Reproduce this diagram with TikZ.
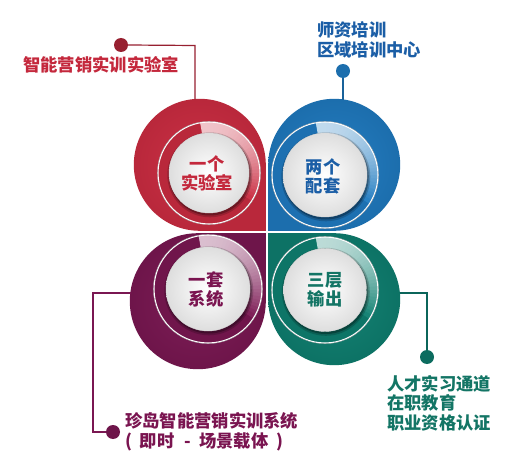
\documentclass[tikz,border=0pt]{standalone}
\usepackage{fontspec}
\newfontfamily\cjk{Noto Sans CJK SC}
\usetikzlibrary{calc}
\definecolor{cred}{HTML}{C92B40}
\definecolor{cblue}{HTML}{1F7AC0}
\definecolor{cpurp}{HTML}{7A1752}
\definecolor{cgreen}{HTML}{0E7F70}
\definecolor{tred}{HTML}{C4283C}
\definecolor{tblue}{HTML}{1B5EA6}
\definecolor{tpurp}{HTML}{7A1450}
\definecolor{tgreen}{HTML}{137565}
% #1 colour, #2 centre, #3 ring radius, #4 disc radius
\newcommand\mydisc[4]{%
  \fill[#1!92!black] (#2) circle[radius=#3];
  \foreach \a in {100,96,...,-28}{%
    \pgfmathsetmacro\myt{(100-\a)/130}%
    \pgfmathsetmacro\myp{28+70*\myt*\myt}%
    \fill[#1!\myp!white] ($(#2)+(\a:#3)$) arc[start angle=\a,end angle=\a-5,radius=#3]
      -- ($(#2)+(\a-5:#4)$) arc[start angle=\a-5,end angle=\a,radius=#4] -- cycle;
  }
  \draw[white, line width=1.1pt] (#2) circle[radius=#3];
  \draw[black!35, line width=0.3pt] (#2) circle[radius=#3+0.7];
  \fill[black, opacity=0.18] ($(#2)+(0.8,-1.8)$) circle[radius=#4+2.5];
  \fill[black, opacity=0.28] ($(#2)+(0.8,-1.5)$) circle[radius=#4+1];
  \shadedraw[inner color=white, outer color=black!13, draw=black!15, line width=0.4pt] (#2) circle[radius=#4];
}
\tikzset{
  lbl/.style={font=\cjk\bfseries\fontsize{17.3}{20}\selectfont, inner sep=0pt, align=left, anchor=west},
  intxt/.style={font=\cjk\bfseries\fontsize{17.3}{19}\selectfont, inner sep=0pt, align=center},
  dotn/.style={circle, inner sep=0pt, minimum size=14pt},
  conn/.style={line width=1.2pt},
}
\begin{document}
\begin{tikzpicture}[x=1pt,y=1pt]
\useasboundingbox (0,0) rectangle (520,467);
\fill[white] (0,0) rectangle (520,467);

% petals
\shade[inner color=cred!97!white, outer color=cred!92!black]
  (265.8,236.2) -- (265.8,302.2) arc[start angle=0,end angle=270,radius=66] -- cycle;
\shade[inner color=cblue!97!white, outer color=cblue!90!black]
  (268.2,236.2) -- (334.2,236.2) arc[start angle=-90,end angle=180,radius=66] -- cycle;
\shade[inner color=cgreen!97!white, outer color=cgreen!90!black]
  (268.2,233.8) -- (268.2,167.8) arc[start angle=180,end angle=450,radius=66] -- cycle;
\shade[inner color=cpurp!97!white, outer color=cpurp!90!black]
  (265.8,233.8) -- (197.8,233.8) arc[start angle=90,end angle=360,radius=68] -- cycle;

% discs
\mydisc{cred}{209,294}{51}{40}
\mydisc{cblue}{325,292}{53}{42}
\mydisc{cpurp}{208,178}{54}{42}
\mydisc{cgreen}{325,177}{53}{41.5}

% disc texts
\node[intxt, text=tred] (t1) at (207,294) {一个\\实验室};
\node[intxt, text=tblue] (t2) at (323,291) {两个\\配套};
\node[intxt, text=tpurp] (t3) at (206,177) {一套\\系统};
\node[intxt, text=tgreen] (t4) at (325,177) {三层\\输出};

% connector ends on petals
\coordinate (redtop) at (195,367.5);
\coordinate (bluetop) at (343,367.2);
\coordinate (purpleft) at (131,174);
\coordinate (greenright) at (399.5,174);
\coordinate (rbend) at (195,421.5);
\coordinate (pbend1) at (93,174);
\coordinate (pbend2) at (93,35);
\coordinate (gbend) at (427,174);

% dots
\node[dotn, fill=cred!75!black] (rdot) at (121,422) {};
\node[dotn, fill=cblue!90!black] (bdot) at (343,396) {};
\node[dotn, fill=cpurp!90!black] (pdot) at (113,35) {};
\node[dotn, fill=cgreen!85!black] (gdot) at (427,110) {};

% connectors
\draw[conn, cred!75!black] (rdot.east) -- (rbend) -- (redtop);
\draw[conn, cblue!80!black] (bdot.south) -- (bluetop);
\draw[conn, cpurp] (purpleft) -- (pbend1) -- (pbend2) -- (pdot.west);
\draw[conn, cgreen!80!black] (greenright) -- (gbend) -- (gdot.north);

% labels
\node[lbl, text=tred] (lr) at (23,402) {智能营销实训实验室};
\node[lbl, text=tblue] (lb) at (317,427) {师资培训\\区域培训中心};
\node[lbl, text=tpurp] (lp) at (125,35) {珍岛智能营销实训系统\\(\hspace{0.45em}即时\hspace{0.6em}-\hspace{0.45em}场景载体\hspace{0.45em})};
\node[lbl, text=tgreen, font=\cjk\bfseries\fontsize{17.3}{19.5}\selectfont] (lg) at (387,64) {人才实习通道\\在职教育\\职业资格认证};
\end{tikzpicture}
\end{document}
